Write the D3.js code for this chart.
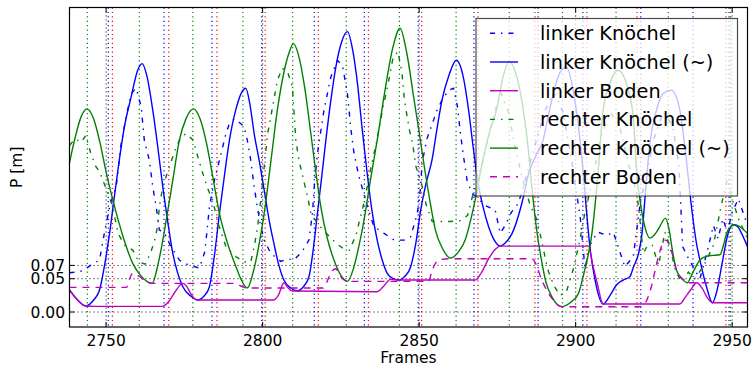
<!DOCTYPE html>
<html>
<head>
<meta charset="utf-8">
<script src="https://cdn.jsdelivr.net/npm/d3@7"></script>
<style>
  body { margin: 0; background: #fff; }
  svg { display: block; font-family: "DejaVu Sans", sans-serif; }
</style>
</head>
<body>
<svg id="chart" width="754" height="366"></svg>
<script>
// frame / value pairs
const linkerKnoechel = [
  [2738.3,0.059],[2740.5,0.06],[2742.5,0.062],[2745,0.07],[2747.9,0.078],[2749.5,0.12],[2751.2,0.16],
  [2753.2,0.188],[2754.8,0.253],[2756.4,0.293],[2758,0.328],[2759.6,0.336],[2761.2,0.308],[2762.2,0.258],
  [2763.8,0.228],[2764.9,0.188],[2766,0.158],[2767,0.123],[2768.5,0.12],[2770.5,0.1],[2773.4,0.078],
  [2776.1,0.071],[2779.8,0.066],[2781.5,0.09],[2782.2,0.12],[2783,0.158],[2784.6,0.198],[2786.2,0.228],
  [2788.3,0.268],[2789.4,0.283],[2791,0.29],[2792.5,0.285],[2794.1,0.278],[2795.1,0.258],[2796.2,0.228],
  [2797.3,0.188],[2798.3,0.158],[2799.4,0.128],[2800.5,0.108],[2802.6,0.088],[2805.8,0.076],[2808,0.08],
  [2810,0.078],[2812.5,0.09],[2814.8,0.108],[2815.9,0.148],[2816.5,0.188],[2817.5,0.238],[2819.6,0.303],
  [2821.8,0.353],[2823.9,0.378],[2825.5,0.37],[2827.1,0.328],[2828.1,0.278],[2829.2,0.238],[2830.8,0.203],
  [2832.5,0.175],[2834,0.15],[2835.6,0.128],[2838.8,0.118],[2842,0.108],[2845.2,0.108],[2847.3,0.113],
  [2849.4,0.148],[2850.5,0.188],[2850.9,0.223],[2852.5,0.26],[2855.7,0.303],[2857.3,0.318],[2859.4,0.333],
  [2861,0.336],[2862.2,0.31],[2863.2,0.268],[2864.2,0.233],[2865.3,0.198],[2866.9,0.178],[2869,0.17],
  [2871,0.16],[2874.3,0.153],[2875.9,0.118],[2877.5,0.13],[2879.5,0.15],[2881.7,0.163],[2884,0.2],
  [2887,0.25],[2890,0.3],[2893,0.33],[2896,0.3],[2899,0.22],[2901.5,0.14],[2903,0.065],[2904.5,0.1],
  [2907,0.12],[2910,0.115],[2912,0.12],[2913.6,0.098],[2915.7,0.068],[2918.4,0.083],[2920.8,0.17],
  [2922,0.19],[2925,0.26],[2928,0.3],[2931,0.28],[2933,0.22],[2934.2,0.098],[2936.3,0.078],[2939.7,0.05],
  [2942,0.09],[2944,0.13],[2945.5,0.11],[2947,0.14],[2948.5,0.12],[2950,0.15],[2952,0.17],[2954.9,0.13]
];
const linkerKnoechelGlatt = [
  [2738.3,0.033],[2740.5,0.02],[2743.6,0.009],[2746,0.018],[2747.9,0.033],[2749.5,0.07],[2751.1,0.118],
  [2752.6,0.172],[2754.2,0.228],[2756,0.282],[2758,0.323],[2760,0.362],[2761.5,0.373],[2763,0.355],
  [2764.9,0.303],[2766.5,0.248],[2768.1,0.188],[2769.7,0.135],[2771.3,0.088],[2772.9,0.058],[2774.5,0.038],
  [2777,0.024],[2779.3,0.018],[2781.3,0.024],[2783,0.038],[2784.6,0.085],[2786.2,0.148],[2787.8,0.205],
  [2789.4,0.258],[2791.5,0.305],[2793.7,0.333],[2794.6,0.336],[2796,0.31],[2797.3,0.268],[2799,0.225],
  [2800.5,0.183],[2802,0.14],[2803.6,0.103],[2805.2,0.07],[2806.8,0.048],[2809,0.036],[2811.1,0.032],
  [2813,0.038],[2814.8,0.053],[2816.2,0.095],[2817.5,0.148],[2818.8,0.2],[2820.2,0.258],[2821.8,0.318],
  [2823.4,0.368],[2825.2,0.405],[2827.1,0.421],[2828.7,0.395],[2830.3,0.343],[2831.8,0.275],[2833.4,0.208],
  [2835,0.15],[2836.6,0.108],[2838.2,0.078],[2839.8,0.058],[2841.7,0.05],[2843.6,0.048],[2845.5,0.054],
  [2847.3,0.068],[2849,0.105],[2850.5,0.153],[2852.3,0.195],[2854.1,0.228],[2855.7,0.275],[2857.3,0.318],
  [2859.5,0.355],[2861.9,0.378],[2864,0.355],[2865.8,0.303],[2867.2,0.25],[2868.5,0.203],[2870.3,0.16],
  [2872.2,0.128],[2874,0.108],[2875.9,0.099],[2877.8,0.105],[2879.7,0.118],[2882.8,0.163],[2885,0.208],
  [2887.3,0.235],[2889.6,0.258],[2891.5,0.3],[2893.4,0.338],[2895.3,0.362],[2897,0.368],[2899.3,0.33],
  [2901.4,0.258],[2902.6,0.2],[2903.5,0.15],[2904.5,0.1],[2906.2,0.048],[2908.8,0.012],[2911,0.025],
  [2913.1,0.041],[2915.2,0.048],[2917.3,0.053],[2918.5,0.068],[2920.1,0.088],[2921.2,0.118],[2922.1,0.168],
  [2923.7,0.253],[2925.8,0.303],[2928,0.328],[2930.6,0.333],[2933.3,0.303],[2934.9,0.248],[2937,0.158],
  [2938.6,0.103],[2939.7,0.078],[2941.8,0.038],[2943.7,0.014],[2945.2,0.033],[2946.6,0.068],[2948.7,0.118],
  [2950.3,0.131],[2951.8,0.128],[2953,0.118],[2954.9,0.098]
];
const linkerBoden = [
  [2738.3,0.033],[2740.5,0.02],[2743.6,0.009],[2746,0.0085],[2768.1,0.0085],[2770,0.016],[2772,0.03],
  [2774.5,0.043],[2775.5,0.04],[2777,0.028],[2778.5,0.019],[2780,0.018],[2803.5,0.018],[2805,0.025],
  [2806.8,0.044],[2808,0.037],[2809.5,0.0315],[2836.6,0.0305],[2838.5,0.038],[2840.9,0.049],[2843.6,0.048],
  [2867.9,0.048],[2870,0.06],[2872.2,0.08],[2874.5,0.095],[2875.9,0.099],[2904.1,0.099],[2905.5,0.07],
  [2906.8,0.045],[2908.8,0.012],[2933.3,0.012],[2935,0.022],[2937,0.035],[2938.7,0.044],[2940.5,0.035],
  [2942,0.022],[2943.7,0.014],[2954.9,0.014]
];
const rechterKnoechel = [
  [2738.3,0.25],[2740,0.26],[2742,0.255],[2743.5,0.265],[2745,0.24],[2746.5,0.22],[2748,0.21],[2750,0.185],
  [2752,0.16],[2753.8,0.118],[2756,0.1],[2758.5,0.093],[2760.5,0.075],[2762.5,0.072],[2764.3,0.09],
  [2765.5,0.108],[2766.5,0.13],[2767,0.158],[2768.1,0.188],[2770.2,0.218],[2772.4,0.248],[2774,0.263],
  [2775.6,0.268],[2777.8,0.258],[2779.3,0.233],[2780.9,0.208],[2782.5,0.185],[2784,0.168],[2786,0.13],
  [2788.3,0.098],[2791.5,0.083],[2794.1,0.075],[2796.2,0.075],[2797.3,0.098],[2798.4,0.128],[2799.4,0.168],
  [2800.5,0.218],[2801.6,0.268],[2803.2,0.308],[2804.7,0.348],[2806.3,0.366],[2808,0.36],[2809.5,0.338],
  [2810,0.303],[2810.6,0.258],[2811.6,0.228],[2813,0.2],[2814.5,0.17],[2815.4,0.148],[2818,0.13],
  [2820.4,0.118],[2823.5,0.103],[2825.6,0.096],[2827.7,0.093],[2829.8,0.115],[2831,0.138],[2832.6,0.168],
  [2834.2,0.208],[2836.3,0.253],[2838.5,0.308],[2840.1,0.343],[2841.7,0.383],[2843.2,0.391],[2844.5,0.36],
  [2845.3,0.318],[2846.9,0.273],[2848,0.25],[2849,0.218],[2851,0.188],[2852.3,0.16],[2854.2,0.136],
  [2857,0.136],[2860,0.136],[2863,0.137],[2865.5,0.145],[2867,0.173],[2870,0.22],[2873,0.28],[2876,0.33],
  [2878.5,0.3],[2881,0.24],[2883,0.2],[2885.5,0.16],[2887.5,0.14],[2889,0.11],[2891,0.065],[2893,0.04],
  [2895,0.025],[2897,0.03],[2899,0.06],[2901,0.1],[2903,0.15],[2905,0.19],[2908,0.26],[2911,0.3],
  [2914,0.28],[2917,0.22],[2919.5,0.18],[2920.5,0.14],[2921.6,0.088],[2923,0.1],[2924.5,0.1],[2926.5,0.07],
  [2928.5,0.12],[2930,0.1],[2932,0.06],[2934,0.045],[2936,0.06],[2938,0.05],[2941,0.07],[2944,0.1],
  [2946.5,0.16],[2948.5,0.2],[2950,0.17],[2952,0.14],[2954.9,0.11]
];
const rechterKnoechelGlatt = [
  [2738.3,0.224],[2740,0.26],[2742,0.293],[2743.9,0.305],[2746,0.29],[2748,0.255],[2750,0.21],[2753,0.153],
  [2755.5,0.112],[2758.5,0.073],[2761,0.055],[2763,0.046],[2764.7,0.043],[2766.5,0.07],[2768,0.105],
  [2769.2,0.138],[2771.3,0.198],[2773.4,0.258],[2775.5,0.29],[2777.9,0.305],[2780,0.29],[2782,0.255],
  [2784,0.205],[2786.2,0.148],[2789,0.1],[2791.5,0.068],[2793,0.05],[2795.1,0.036],[2797,0.06],[2798.8,0.1],
  [2800.5,0.148],[2802.6,0.225],[2804.7,0.303],[2806.8,0.36],[2808.5,0.39],[2809.8,0.403],[2811.5,0.385],
  [2813.5,0.335],[2815.4,0.268],[2817,0.21],[2818.6,0.158],[2820.7,0.11],[2822.8,0.078],[2825,0.055],
  [2827.1,0.046],[2829,0.065],[2830.8,0.1],[2832.4,0.138],[2834.5,0.2],[2836.6,0.258],[2839,0.33],
  [2841.5,0.395],[2843.9,0.426],[2846,0.39],[2848.4,0.318],[2850,0.27],[2851.5,0.223],[2853.4,0.168],
  [2855.2,0.123],[2857.5,0.095],[2860,0.081],[2862.5,0.09],[2864.7,0.108],[2866.3,0.135],[2867.9,0.168],
  [2870,0.22],[2872.5,0.27],[2874.7,0.303],[2876.8,0.353],[2878.8,0.376],[2881.2,0.353],[2883.3,0.303],
  [2884.9,0.243],[2886,0.188],[2887.5,0.125],[2889,0.08],[2890.5,0.045],[2892.5,0.022],[2895.6,0.008],
  [2898.5,0.015],[2900.9,0.028],[2903,0.065],[2905.2,0.118],[2907,0.2],[2908.8,0.303],[2910.9,0.343],
  [2913.6,0.363],[2916.2,0.343],[2918.4,0.293],[2919.5,0.21],[2920.5,0.17],[2922,0.13],[2923.7,0.111],
  [2925,0.115],[2926.5,0.125],[2928.7,0.141],[2929.8,0.125],[2931,0.09],[2932.2,0.063],[2934,0.05],
  [2935.6,0.044],[2937.5,0.06],[2939.7,0.078],[2942,0.084],[2944,0.085],[2946.1,0.086],[2947.2,0.1],
  [2948.2,0.118],[2949.5,0.128],[2950.8,0.131],[2952.5,0.128],[2954.9,0.118]
];
const rechterBoden = [
  [2738.3,0.037],[2756.5,0.037],[2757.5,0.05],[2758.5,0.058],[2760.5,0.054],[2762.5,0.047],[2764.7,0.043],
  [2791,0.043],[2792.5,0.04],[2795.1,0.036],[2819.3,0.036],[2820.5,0.045],[2822,0.06],[2823.3,0.065],
  [2825,0.053],[2827.1,0.046],[2853,0.046],[2854,0.06],[2855.2,0.073],[2857,0.079],[2860,0.08],[2886,0.08],
  [2887.5,0.07],[2889,0.05],[2890.5,0.035],[2892.5,0.02],[2895.6,0.008],[2920.5,0.008],[2922,0.012],
  [2924,0.035],[2926,0.075],[2927.5,0.1],[2928.7,0.108],[2930,0.1],[2931,0.085],[2932.2,0.063],[2934,0.05],
  [2935.6,0.044],[2954.9,0.044]
];

// event markers (frames)
const greenMarks = [2744, 2760.6, 2777.7, 2793.7, 2809.6, 2826.7, 2843.7, 2861.8, 2878.8, 2895.8, 2912.9, 2929.6, 2949.5];
const blueMarks = [2750.7, 2768.5, 2783.8, 2799.7, 2816.5, 2832.5, 2849.7, 2867.5, 2888, 2902.3, 2920.8, 2937.5, 2949];
const redMarks = [2752, 2770, 2785.4, 2800.8, 2817.8, 2833.8, 2850.8, 2868.8, 2887, 2903.6, 2919.6, 2948];

const xTicks = [2750, 2800, 2850, 2900, 2950];
const yTicks = [0.00, 0.05, 0.07];
const xDomain = [2738.3, 2954.9];
const yDomain = [-0.0225, 0.4572];

const legendNames = ["linker Knöchel", "linker Knöchel (~)", "linker Boden",
  "rechter Knöchel", "rechter Knöchel (~)", "rechter Boden"];

const plotL = 69.5, plotR = 747.5, plotT = 7.5, plotB = 327;

const svg = d3.select('#chart');
const x = d3.scaleLinear().domain(xDomain).range([plotL, plotR]);
const y = d3.scaleLinear().domain(yDomain).range([plotB, plotT]);

svg.append('defs').append('clipPath').attr('id', 'plotclip')
  .append('rect').attr('x', plotL).attr('y', plotT)
  .attr('width', plotR - plotL).attr('height', plotB - plotT);

const plot = svg.append('g').attr('clip-path', 'url(#plotclip)');

// vertical event lines
function vlines(frames, color) {
  plot.selectAll(null).data(frames).enter().append('line')
    .attr('x1', d => x(d)).attr('x2', d => x(d))
    .attr('y1', plotT).attr('y2', plotB)
    .attr('stroke', color).attr('stroke-width', 1.2)
    .attr('stroke-dasharray', '1.2,3.2');
}
vlines(greenMarks, '#008000');
vlines(blueMarks, '#0000ff');
vlines(redMarks, '#ff0000');

// grid
plot.selectAll(null).data(xTicks).enter().append('line')
  .attr('x1', d => x(d)).attr('x2', d => x(d))
  .attr('y1', plotT).attr('y2', plotB)
  .attr('stroke', '#000').attr('stroke-width', 1)
  .attr('stroke-dasharray', '1,3');
plot.selectAll(null).data(yTicks).enter().append('line')
  .attr('x1', plotL).attr('x2', plotR)
  .attr('y1', d => y(d)).attr('y2', d => y(d))
  .attr('stroke', '#000').attr('stroke-width', 1)
  .attr('stroke-dasharray', '1,3');

const line = d3.line().x(d => x(d[0])).y(d => y(d[1]));
const smooth = d3.line().x(d => x(d[0])).y(d => y(d[1])).curve(d3.curveMonotoneX);

const series = [
  { data: linkerKnoechel, color: '#0000ff', dash: '5,6,1.5,6', gen: line },
  { data: linkerKnoechelGlatt, color: '#0000ff', dash: null, gen: smooth },
  { data: linkerBoden, color: '#bf00bf', dash: null, gen: smooth },
  { data: rechterKnoechel, color: '#008000', dash: '5,6,1.5,6', gen: line },
  { data: rechterKnoechelGlatt, color: '#008000', dash: null, gen: smooth },
  { data: rechterBoden, color: '#bf00bf', dash: '7,6', gen: smooth }
];

series.forEach(s => {
  plot.append('path').datum(s.data)
    .attr('d', s.gen)
    .attr('fill', 'none')
    .attr('stroke', s.color)
    .attr('stroke-width', 1.4)
    .attr('stroke-dasharray', s.dash);
});

// frame + ticks
svg.append('rect').attr('x', plotL).attr('y', plotT)
  .attr('width', plotR - plotL).attr('height', plotB - plotT)
  .attr('fill', 'none').attr('stroke', '#000').attr('stroke-width', 1.2);

const tickLen = 5;
xTicks.forEach(t => {
  svg.append('line').attr('x1', x(t)).attr('x2', x(t)).attr('y1', plotB).attr('y2', plotB - tickLen).attr('stroke', '#000');
  svg.append('line').attr('x1', x(t)).attr('x2', x(t)).attr('y1', plotT).attr('y2', plotT + tickLen).attr('stroke', '#000');
});
yTicks.forEach(t => {
  svg.append('line').attr('x1', plotL).attr('x2', plotL + tickLen).attr('y1', y(t)).attr('y2', y(t)).attr('stroke', '#000');
  svg.append('line').attr('x1', plotR).attr('x2', plotR - tickLen).attr('y1', y(t)).attr('y2', y(t)).attr('stroke', '#000');
});

svg.append('g').selectAll('text').data(xTicks).enter().append('text')
  .attr('x', d => x(d)).attr('y', 346)
  .attr('text-anchor', 'middle').attr('font-size', 15.5)
  .text(d => d);
svg.append('g').selectAll('text').data(yTicks).enter().append('text')
  .attr('x', 65).attr('y', d => y(d) + 5.6)
  .attr('text-anchor', 'end').attr('font-size', 15.5)
  .text(d => d3.format('.2f')(d));

svg.append('text').attr('x', (plotL + plotR) / 2).attr('y', 363)
  .attr('text-anchor', 'middle').attr('font-size', 15.5).text('Frames');
svg.append('text').attr('transform', 'translate(22,' + ((plotT + plotB) / 2) + ') rotate(-90)')
  .attr('text-anchor', 'middle').attr('font-size', 15.5).text('P [m]');

// legend
const lg = svg.append('g');
lg.append('rect').attr('x', 476).attr('y', 18.5).attr('width', 261.5).attr('height', 177.5)
  .attr('fill', '#fff').attr('fill-opacity', 0.75)
  .attr('stroke', '#000').attr('stroke-opacity', 0.7).attr('stroke-width', 1.2);
series.forEach((s, i) => {
  const cy = 33.3 + i * 28.7;
  lg.append('line').attr('x1', 490).attr('x2', 518).attr('y1', cy).attr('y2', cy)
    .attr('stroke', s.color).attr('stroke-width', 1.4).attr('stroke-dasharray', s.dash);
  lg.append('text').attr('x', 540).attr('y', cy + 6.8).attr('font-size', 19.3).text(legendNames[i]);
});
</script>
</body>
</html>
